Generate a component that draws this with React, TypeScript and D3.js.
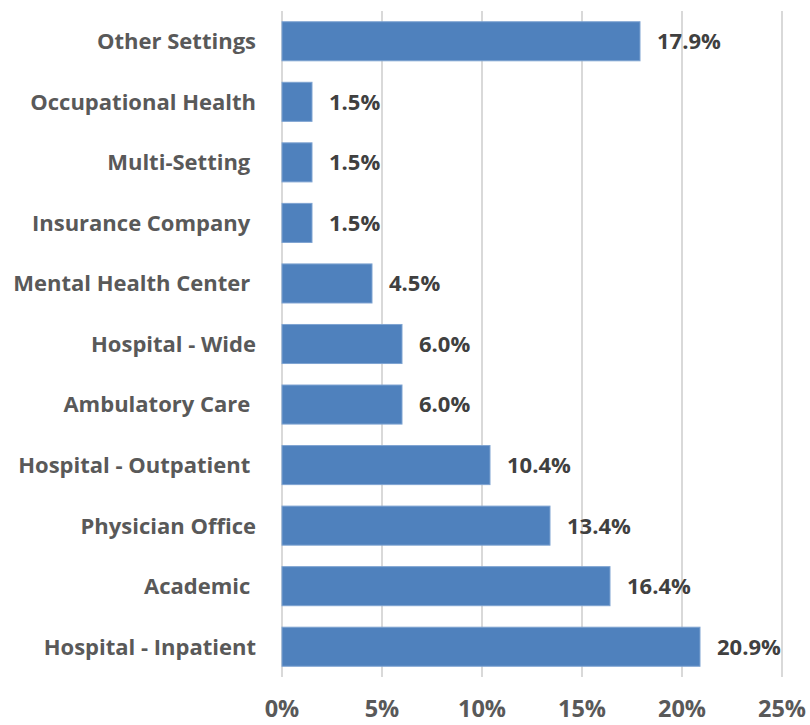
import React from "react";
import * as d3 from "d3";

const categories = [
  "Other Settings",
  "Occupational Health",
  "Multi-Setting ",
  "Insurance Company ",
  "Mental Health Center ",
  "Hospital - Wide",
  "Ambulatory Care ",
  "Hospital - Outpatient ",
  "Physician Office",
  "Academic ",
  "Hospital - Inpatient",
];
const values = [17.9, 1.5, 1.5, 1.5, 4.5, 6.0, 6.0, 10.4, 13.4, 16.4, 20.9];
const ticks = [0, 5, 10, 15, 20, 25];

const W = 810;
const H = 725;
const FONT = "'Open Sans', sans-serif";

export default function App() {
  const x = d3.scaleLinear().domain([0, 25]).range([282, 782]);
  const y = d3.scaleBand<string>().domain(categories).range([11, 677]).paddingInner(0.355).paddingOuter(0.1775);

  return (
    <svg width={W} height={H} style={{ position: "absolute", left: 0, top: 0, background: "#fff" }}>
      {ticks.map((t) => (
        <line key={"g" + t} x1={x(t)} x2={x(t)} y1={11} y2={677} stroke="#d9d9d9" strokeWidth={2} />
      ))}
      {categories.map((c, i) => (
        <rect
          key={"b" + i}
          x={x(0)}
          y={y(c)!}
          width={x(values[i]) - x(0)}
          height={y.bandwidth()}
          fill="#4f81bd"
          stroke="#7ea3d1"
          strokeWidth={1}
        />
      ))}
      {categories.map((c, i) => (
        <text
          key={"v" + i}
          x={x(values[i]) + 17}
          y={y(c)! + y.bandwidth() / 2}
          dy="0.36em"
          fontFamily={FONT}
          fontWeight="bold"
          fontSize={22}
          fill="#404040"
        >
          {values[i].toFixed(1) + "%"}
        </text>
      ))}
      {categories.map((c, i) => (
        <text
          key={"c" + i}
          x={256}
          y={y(c)! + y.bandwidth() / 2}
          dy="0.36em"
          textAnchor="end"
          fontFamily={FONT}
          fontWeight="bold"
          fontSize={22}
          fill="#595959"
          style={{ whiteSpace: "pre" }}
        >
          {c}
        </text>
      ))}
      {ticks.map((t) => (
        <text
          key={"t" + t}
          x={x(t)}
          y={717}
          textAnchor="middle"
          fontFamily={FONT}
          fontWeight="bold"
          fontSize={23.5}
          fill="#595959"
        >
          {t + "%"}
        </text>
      ))}
    </svg>
  );
}
